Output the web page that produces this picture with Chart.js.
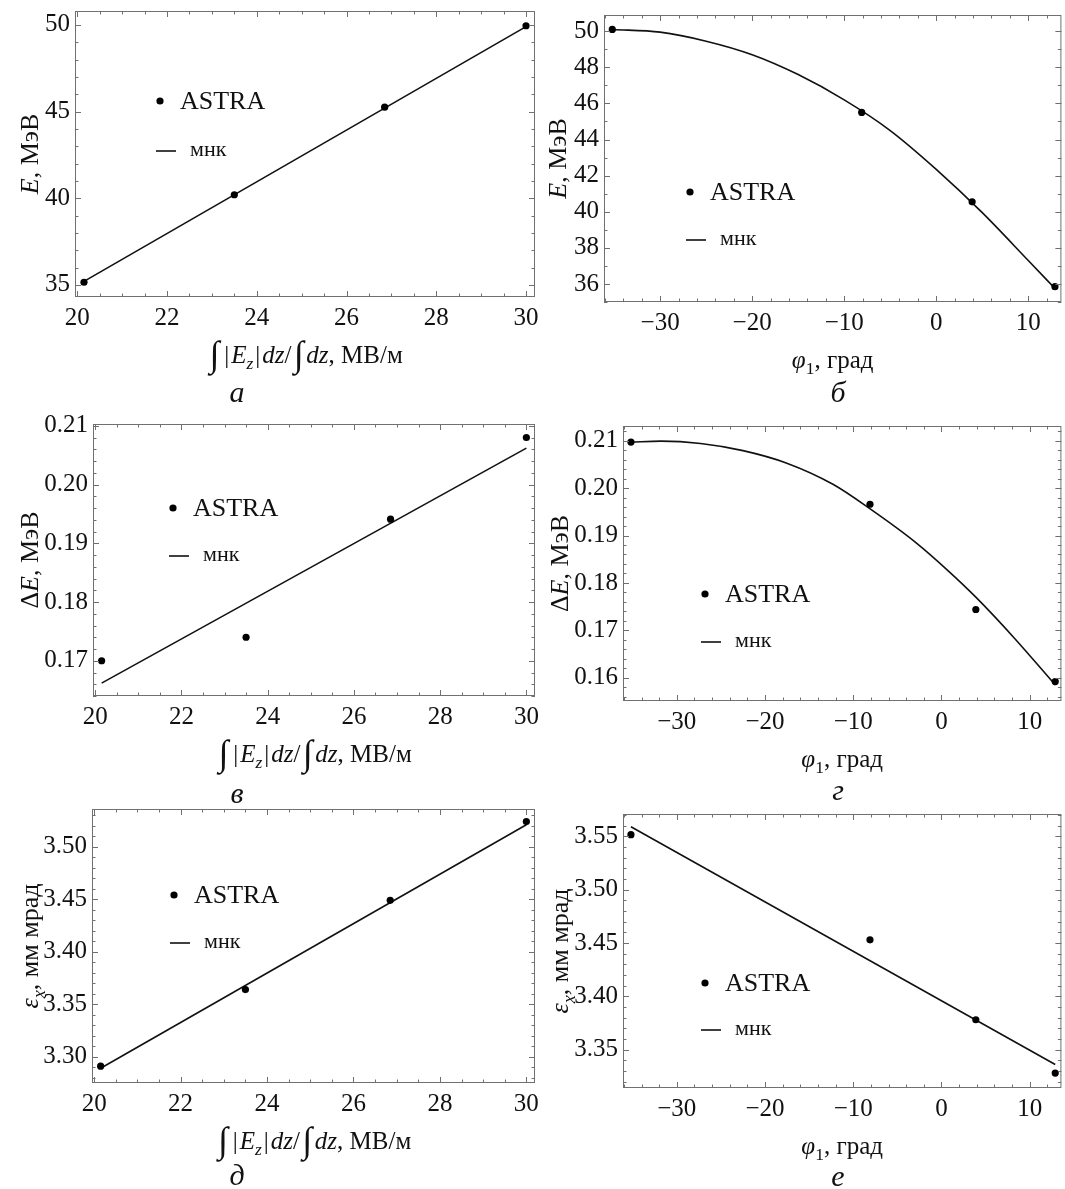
<!DOCTYPE html>
<html>
<head>
<meta charset="utf-8">
<script src="https://cdn.jsdelivr.net/npm/chart.js@4.4.1/dist/chart.umd.min.js"></script>
<style>
  body { margin: 0; background: #fff; }
  #fig { position: relative; width: 1065px; height: 1189px; }
  #fig canvas { position: absolute; }
  .cap {
    position: absolute;
    font-family: "Liberation Serif", serif;
    font-style: italic;
    font-size: 30px;
    line-height: 1;
    color: #111;
    transform: translate(-50%, -50%);
  }
</style>
</head>
<body>
<div id="fig">
  <canvas id="chA" width="540" height="385" style="left:0;top:0"></canvas>
  <canvas id="chB" width="525" height="385" style="left:540px;top:0"></canvas>
  <canvas id="chV" width="540" height="385" style="left:0;top:400px"></canvas>
  <canvas id="chG" width="525" height="385" style="left:540px;top:400px"></canvas>
  <canvas id="chD" width="540" height="375" style="left:0;top:790px"></canvas>
  <canvas id="chE" width="525" height="375" style="left:540px;top:790px"></canvas>
  <div class="cap" style="left:237px;top:392px">а</div>
  <div class="cap" style="left:838px;top:392px">б</div>
  <div class="cap" style="left:237px;top:793px">в</div>
  <div class="cap" style="left:838px;top:790px">г</div>
  <div class="cap" style="left:237px;top:1175px">д</div>
  <div class="cap" style="left:838px;top:1176px">е</div>
</div>
<script>
// средняя напряжённость поля, МВ/м, и фаза, град
const fieldX = [20.15, 23.5, 26.85, 30];
const fieldFitX = [20.15, 30];
const phaseX = [-35.2, -8.1, 3.9, 12.9];
const phaseFitX = [-35.2, 12.9];

// энергия E, МэВ
const energyByField = [35.15, 40.2, 45.25, 49.95];
const energyByFieldFit = [35.2, 49.9];
const energyByPhase = [50.1, 45.5, 40.55, 35.85];
const energyCurveX = [-35.2, -30, -25, -20, -15, -10, -5, 0, 5, 10, 12.9];
const energyCurveY = [50.1, 49.95, 49.45, 48.7, 47.6, 46.2, 44.5, 42.35, 39.95, 37.3, 35.75];

// разброс энергии dE, МэВ
const spreadByField = [0.170, 0.174, 0.1941, 0.208];
const spreadByFieldFit = [0.1662, 0.2062];
const spreadByPhase = [0.2097, 0.1966, 0.1744, 0.1592];
const spreadCurveX = [-35.2, -31.8, -27.3, -22.5, -17.6, -12.3, -8.0, -2.9, 0.8, 3.9, 8.3, 12.9];
const spreadCurveY = [0.2097, 0.2099, 0.2094, 0.2079, 0.2053, 0.2008, 0.1955, 0.1885, 0.1825, 0.1770, 0.1683, 0.1585];

// эмиттанс, мм мрад
const emitByField = [3.291, 3.364, 3.449, 3.524];
const emitByFieldFit = [3.289, 3.521];
const emitByPhase = [3.5516, 3.453, 3.378, 3.328];
const emitByPhaseFit = [3.559, 3.336];

// подписи делений
const fieldTicks = [20, 22, 24, 26, 28, 30];
const phaseTicks = [-30, -20, -10, 0, 10];
const energyTicksA = [35, 40, 45, 50];
const energyTicksB = [36, 38, 40, 42, 44, 46, 48, 50];
const spreadTicksV = [0.17, 0.18, 0.19, 0.20, 0.21];
const spreadTicksG = [0.16, 0.17, 0.18, 0.19, 0.20, 0.21];
const emitTicksD = [3.30, 3.35, 3.40, 3.45, 3.50];
const emitTicksE = [3.35, 3.40, 3.45, 3.50, 3.55];

const SERIF = '"Liberation Serif", "Times New Roman", serif';
const INK = '#111';

const fieldTitle = [['∫', 'n'], ['|', 'b'], ['E', 'i'], ['z', 'is'], ['|', 'b'], ['dz', 'i'], ['/', ''], ['∫', 'n'], ['dz', 'i'], [', МВ/м', '']];
const phaseTitle = [['φ', 'i'], ['1', 's'], [', град', '']];

function pairs(xs, ys) {
  return xs.map((x, i) => ({ x: x, y: ys[i] }));
}

function phaseLabel(v) {
  return v < 0 ? '\u2212' + Math.abs(v) : String(v);
}

function partFont(flag, size) {
  let s = size;
  let dy = 0;
  let pad = 0;
  if (flag.includes('s')) { s = size * 0.7; dy = size * 0.25; }
  if (flag.includes('n')) { s = size * 1.45; dy = size * 0.12; pad = size * 0.1; }
  if (flag.includes('b')) { pad = size * 0.08; }
  const style = flag.includes('i') ? 'italic ' : '';
  return { font: style + s + 'px ' + SERIF, dy: dy, pad: pad };
}

function drawRich(ctx, parts, x, y, size) {
  let total = 0;
  const widths = parts.map(([t, f]) => {
    const pf = partFont(f, size);
    ctx.font = pf.font;
    const w = ctx.measureText(t).width + pf.pad * 2;
    total += w;
    return w;
  });
  let cx = x - total / 2;
  ctx.textAlign = 'left';
  ctx.textBaseline = 'alphabetic';
  parts.forEach(([t, f], i) => {
    const pf = partFont(f, size);
    ctx.font = pf.font;
    ctx.fillText(t, cx + pf.pad, y + pf.dy);
    cx += widths[i];
  });
}

// рамка с внутренними делениями на всех сторонах
const frameTicks = {
  id: 'frameTicks',
  afterDatasetsDraw(chart, args, opts) {
    const { ctx, chartArea: a } = chart;
    ctx.save();
    ctx.strokeStyle = '#707070';
    ctx.lineWidth = 1;
    ctx.strokeRect(a.left + 0.5, a.top + 0.5, a.width - 1, a.height - 1);

    const each = (scale, step, fn) => {
      const majors = scale.ticks.map((t) => t.value);
      majors.forEach((v) => fn(scale.getPixelForValue(v), 6));
      const k0 = Math.ceil(scale.min / step - 1e-9);
      const k1 = Math.floor(scale.max / step + 1e-9);
      for (let k = k0; k <= k1; k++) {
        const v = k * step;
        if (majors.some((m) => Math.abs(m - v) < step / 10)) continue;
        fn(scale.getPixelForValue(v), 3.5);
      }
    };

    ctx.beginPath();
    each(chart.scales.x, opts.xMinor, (px, len) => {
      const p = Math.round(px) + 0.5;
      ctx.moveTo(p, a.bottom); ctx.lineTo(p, a.bottom - len);
      ctx.moveTo(p, a.top); ctx.lineTo(p, a.top + len);
    });
    each(chart.scales.y, opts.yMinor, (py, len) => {
      const p = Math.round(py) + 0.5;
      ctx.moveTo(a.left, p); ctx.lineTo(a.left + len, p);
      ctx.moveTo(a.right, p); ctx.lineTo(a.right - len, p);
    });
    ctx.stroke();

    // подписи осей
    ctx.fillStyle = INK;
    drawRich(ctx, opts.xTitle, (a.left + a.right) / 2, a.bottom + 66, 25);
    ctx.translate(opts.yTitleX, (a.top + a.bottom) / 2);
    ctx.rotate(-Math.PI / 2);
    drawRich(ctx, opts.yTitle, 0, 8, 26);
    ctx.restore();
  }
};

// легенда внутри области графика
const insideLegend = {
  id: 'insideLegend',
  afterDatasetsDraw(chart, args, opts) {
    const { ctx, chartArea: a } = chart;
    const [pts, fit] = chart.data.datasets;
    const x0 = a.left + opts.dx;
    const y0 = a.top + opts.dy;
    ctx.save();
    ctx.fillStyle = '#000';
    ctx.beginPath();
    ctx.arc(x0, y0, 3.6, 0, Math.PI * 2);
    ctx.fill();
    ctx.fillStyle = INK;
    ctx.textAlign = 'left';
    ctx.textBaseline = 'middle';
    ctx.font = '26px ' + SERIF;
    ctx.fillText(pts.label, x0 + 20, y0 + 1);
    ctx.strokeStyle = INK;
    ctx.lineWidth = 1.6;
    ctx.beginPath();
    ctx.moveTo(x0 - 4, y0 + opts.gap);
    ctx.lineTo(x0 + 16, y0 + opts.gap);
    ctx.stroke();
    ctx.font = '22px ' + SERIF;
    ctx.fillText(fit.label, x0 + 30, y0 + opts.gap - 1);
    ctx.restore();
  }
};

const panels = [
  {
    id: 'chA', box: { x: 0, y: 0, w: 540, h: 385 }, frame: { l: 75, t: 11, r: 535, b: 297 },
    points: pairs(fieldX, energyByField), fit: pairs(fieldFitX, energyByFieldFit), smooth: false,
    xRange: [19.95, 30.2], yRange: [34.3, 50.8], xTicks: fieldTicks, yTicks: energyTicksA,
    xMinor: 0.5, yMinor: 1, xFmt: String, yFmt: String,
    xTitle: fieldTitle, yTitle: [['E', 'i'], [', МэВ', '']], yTitleX: 30,
    legend: { dx: 85, dy: 90, gap: 50 }
  },
  {
    id: 'chB', box: { x: 540, y: 0, w: 525, h: 385 }, frame: { l: 604, t: 15, r: 1063, b: 302 },
    points: pairs(phaseX, energyByPhase), fit: pairs(energyCurveX, energyCurveY), smooth: true,
    xRange: [-36.1, 13.6], yRange: [35.0, 50.9], xTicks: phaseTicks, yTicks: energyTicksB,
    xMinor: 2, yMinor: 1, xFmt: phaseLabel, yFmt: String,
    xTitle: phaseTitle, yTitle: [['E', 'i'], [', МэВ', '']], yTitleX: 18,
    legend: { dx: 86, dy: 177, gap: 48 }
  },
  {
    id: 'chV', box: { x: 0, y: 400, w: 540, h: 385 }, frame: { l: 93, t: 424, r: 535, b: 696 },
    points: pairs(fieldX, spreadByField), fit: pairs(fieldFitX, spreadByFieldFit), smooth: false,
    xRange: [19.95, 30.2], yRange: [0.1640, 0.2103], xTicks: fieldTicks, yTicks: spreadTicksV,
    xMinor: 0.5, yMinor: 0.002, xFmt: String, yFmt: (v) => v.toFixed(2),
    xTitle: fieldTitle, yTitle: [['Δ', ''], ['E', 'i'], [', МэВ', '']], yTitleX: 30,
    legend: { dx: 80, dy: 84, gap: 48 }
  },
  {
    id: 'chG', box: { x: 540, y: 400, w: 525, h: 385 }, frame: { l: 623, t: 426, r: 1063, b: 701 },
    points: pairs(phaseX, spreadByPhase), fit: pairs(spreadCurveX, spreadCurveY), smooth: true,
    xRange: [-36.1, 13.6], yRange: [0.1551, 0.2131], xTicks: phaseTicks, yTicks: spreadTicksG,
    xMinor: 2, yMinor: 0.002, xFmt: phaseLabel, yFmt: (v) => v.toFixed(2),
    xTitle: phaseTitle, yTitle: [['Δ', ''], ['E', 'i'], [', МэВ', '']], yTitleX: 20,
    legend: { dx: 82, dy: 168, gap: 48 }
  },
  {
    id: 'chD', box: { x: 0, y: 790, w: 540, h: 375 }, frame: { l: 92, t: 809, r: 535, b: 1083 },
    points: pairs(fieldX, emitByField), fit: pairs(fieldFitX, emitByFieldFit), smooth: false,
    xRange: [19.95, 30.2], yRange: [3.275, 3.536], xTicks: fieldTicks, yTicks: emitTicksD,
    xMinor: 0.5, yMinor: 0.01, xFmt: String, yFmt: (v) => v.toFixed(2),
    xTitle: fieldTitle, yTitle: [['ε', 'i'], ['x', 'is'], [', мм мрад', '']], yTitleX: 30,
    legend: { dx: 82, dy: 86, gap: 48 }
  },
  {
    id: 'chE', box: { x: 540, y: 790, w: 525, h: 375 }, frame: { l: 623, t: 814, r: 1063, b: 1088 },
    points: pairs(phaseX, emitByPhase), fit: pairs(phaseFitX, emitByPhaseFit), smooth: false,
    xRange: [-36.1, 13.6], yRange: [3.314, 3.571], xTicks: phaseTicks, yTicks: emitTicksE,
    xMinor: 2, yMinor: 0.01, xFmt: phaseLabel, yFmt: (v) => v.toFixed(2),
    xTitle: phaseTitle, yTitle: [['ε', 'i'], ['x', 'is'], [', мм мрад', '']], yTitleX: 20,
    legend: { dx: 82, dy: 169, gap: 47 }
  }
];

panels.forEach(createPanel);

function createPanel(p) {
  const yWidth = p.frame.l - p.box.x;
  const xHeight = p.box.y + p.box.h - p.frame.b;
  const tickFont = { family: SERIF, size: 25 };

  new Chart(document.getElementById(p.id), {
    type: 'scatter',
    data: {
      datasets: [
        {
          label: 'ASTRA',
          data: p.points,
          pointRadius: 3.6,
          pointHoverRadius: 3.6,
          pointBackgroundColor: '#000',
          pointBorderWidth: 0
        },
        {
          label: 'мнк',
          data: p.fit,
          showLine: true,
          pointRadius: 0,
          borderColor: INK,
          borderWidth: 1.6,
          cubicInterpolationMode: p.smooth ? 'monotone' : 'default',
          tension: 0
        }
      ]
    },
    options: {
      responsive: false,
      animation: false,
      layout: {
        padding: { left: 0, top: p.frame.t - p.box.y, right: p.box.x + p.box.w - p.frame.r, bottom: 0 }
      },
      scales: {
        x: {
          type: 'linear',
          min: p.xRange[0],
          max: p.xRange[1],
          afterBuildTicks: (scale) => { scale.ticks = p.xTicks.map((v) => ({ value: v })); },
          afterFit: (scale) => {
            scale.height = xHeight;
            scale.paddingLeft = 0;
            scale.paddingRight = 0;
          },
          grid: { display: false, drawTicks: false },
          border: { display: false },
          ticks: { font: tickFont, color: INK, padding: 6, maxRotation: 0, autoSkip: false, callback: (v) => p.xFmt(v) }
        },
        y: {
          type: 'linear',
          min: p.yRange[0],
          max: p.yRange[1],
          afterBuildTicks: (scale) => { scale.ticks = p.yTicks.map((v) => ({ value: v })); },
          afterFit: (scale) => {
            scale.width = yWidth;
            scale.paddingTop = 0;
            scale.paddingBottom = 0;
          },
          grid: { display: false, drawTicks: false },
          border: { display: false },
          ticks: { font: tickFont, color: INK, padding: 5, autoSkip: false, callback: (v) => p.yFmt(v) }
        }
      },
      plugins: {
        legend: { display: false },
        tooltip: { enabled: false },
        frameTicks: { xMinor: p.xMinor, yMinor: p.yMinor, xTitle: p.xTitle, yTitle: p.yTitle, yTitleX: p.yTitleX },
        insideLegend: p.legend
      }
    },
    plugins: [frameTicks, insideLegend]
  });
}
</script>
</body>
</html>
